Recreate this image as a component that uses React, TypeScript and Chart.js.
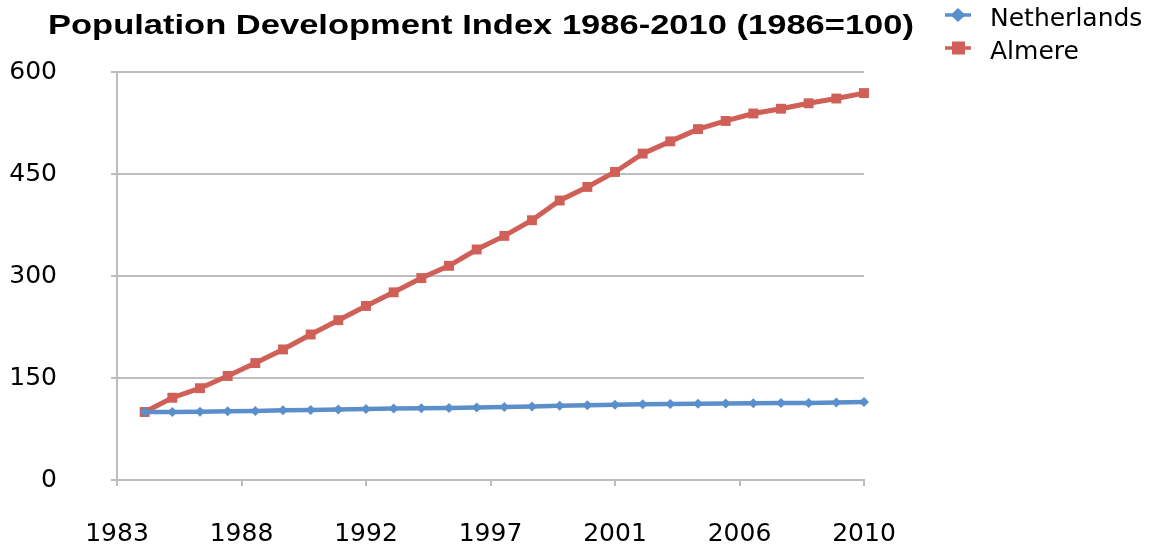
import React, { useEffect, useRef } from "react";
import { Chart, registerables } from "chart.js";

Chart.register(...registerables);

const years = [1984, 1985, 1986, 1987, 1988, 1989, 1990, 1991, 1992, 1993, 1994, 1995, 1996, 1997, 1998, 1999, 2000, 2001, 2002, 2003, 2004, 2005, 2006, 2007, 2008, 2009, 2010];
const netherlands = [100, 100, 100.5, 101, 101.5, 102.4, 103, 103.6, 104.4, 105, 105.5, 106, 106.5, 107.3, 108.2, 109.1, 109.8, 110.7, 111.3, 111.8, 112.2, 112.4, 112.7, 113.1, 113.3, 114, 114.7];
const almere = [100, 121, 135, 153, 172, 192, 214, 235, 256, 276, 297, 315, 339, 359, 382, 411, 431, 453, 480, 498, 516, 528, 539, 546, 554, 561, 569];
const xTickValues = [1983, 1987.5, 1992, 1996.5, 2001, 2005.5, 2010];
const xTickLabels = ["1983", "1988", "1992", "1997", "2001", "2006", "2010"];
const yTickValues = [0, 150, 300, 450, 600];
const titleText = "Population Development Index 1986-2010 (1986=100)";
const seriesNames = ["Netherlands", "Almere"];

const BLUE = "#5B8FCB";
const RED = "#CF5F57";
const GRID = "#BDBDBD";
const FONT = '"DejaVu Sans", sans-serif';

const headerPlugin = {
  id: "header",
  afterDraw(chart: any) {
    const ctx = chart.ctx as CanvasRenderingContext2D;
    ctx.save();
    ctx.fillStyle = "#000";
    ctx.textAlign = "left";
    ctx.textBaseline = "alphabetic";
    ctx.font = 'bold 28px "Liberation Sans", Arial, sans-serif';
    const w = ctx.measureText(titleText).width;
    const targetW = 866;
    ctx.save();
    ctx.translate(48, 34);
    ctx.scale(targetW / w, 1);
    ctx.fillText(titleText, 0, 0);
    ctx.restore();

    // legend
    const entries = [
      { name: seriesNames[0], color: BLUE, y: 15, shape: "diamond" },
      { name: seriesNames[1], color: RED, y: 48, shape: "square" },
    ];
    for (const e of entries) {
      ctx.strokeStyle = e.color;
      ctx.lineWidth = 3.5;
      ctx.beginPath();
      ctx.moveTo(945, e.y);
      ctx.lineTo(971, e.y);
      ctx.stroke();
      ctx.fillStyle = e.color;
      ctx.beginPath();
      if (e.shape === "diamond") {
        ctx.moveTo(958, e.y - 7);
        ctx.lineTo(965.5, e.y);
        ctx.lineTo(958, e.y + 7);
        ctx.lineTo(950.5, e.y);
        ctx.closePath();
      } else {
        ctx.rect(952, e.y - 6.5, 13, 13);
      }
      ctx.fill();
      ctx.fillStyle = "#000";
      ctx.font = `25px ${FONT}`;
      ctx.fillText(e.name, 990, e.y + 11);
    }
    ctx.restore();
  },
};

export default function App() {
  const ref = useRef<HTMLCanvasElement>(null);
  useEffect(() => {
    document.body.style.margin = "0";
    const canvas = ref.current!;
    const chart = new Chart(canvas, {
      type: "line",
      data: {
        datasets: [
          {
            label: seriesNames[0],
            data: years.map((y, i) => ({ x: y, y: netherlands[i] })),
            borderColor: BLUE,
            backgroundColor: BLUE,
            borderWidth: 4.5,
            pointStyle: "rectRot",
            pointRadius: 5,
            pointBorderWidth: 0,
            clip: false as any,
          },
          {
            label: seriesNames[1],
            data: years.map((y, i) => ({ x: y, y: almere[i] })),
            borderColor: RED,
            backgroundColor: RED,
            borderWidth: 5,
            pointStyle: "rect",
            pointRadius: 7,
            pointBorderWidth: 0,
            clip: false as any,
          },
        ],
      },
      options: {
        animation: false,
        responsive: true,
        maintainAspectRatio: false,
        layout: { padding: { top: 72, right: 288, left: 0, bottom: 0 } },
        plugins: {
          legend: { display: false },
          title: { display: false },
          tooltip: { enabled: false },
        },
        scales: {
          x: {
            type: "linear",
            min: 1983,
            max: 2010,
            afterBuildTicks: (s: any) => {
              s.ticks = xTickValues.map((v) => ({ value: v }));
            },
            afterFit: (s: any) => {
              s.height = 69;
            },
            ticks: {
              autoSkip: false,
              maxRotation: 0,
              padding: 33,
              color: "#000",
              font: { family: FONT, size: 25 },
              callback: (_v: any, i: number) => xTickLabels[i],
            },
            grid: {
              drawOnChartArea: false,
              drawTicks: true,
              tickLength: 6,
              color: GRID,
              lineWidth: 2,
            },
            border: { color: GRID, width: 2 },
          },
          y: {
            type: "linear",
            min: 0,
            max: 600,
            afterBuildTicks: (s: any) => {
              s.ticks = yTickValues.map((v) => ({ value: v }));
            },
            afterFit: (s: any) => {
              s.width = 117;
            },
            ticks: {
              padding: 54,
              color: "#000",
              font: { family: FONT, size: 25 },
            },
            grid: {
              tickLength: 6,
              color: GRID,
              lineWidth: 2,
            },
            border: { color: GRID, width: 2 },
          },
        },
      },
      plugins: [headerPlugin],
    });
    return () => chart.destroy();
  }, []);
  return (
    <div style={{ position: "fixed", left: 0, top: 0, width: 1152, height: 549, background: "#fff" }}>
      <canvas ref={ref} />
    </div>
  );
}
